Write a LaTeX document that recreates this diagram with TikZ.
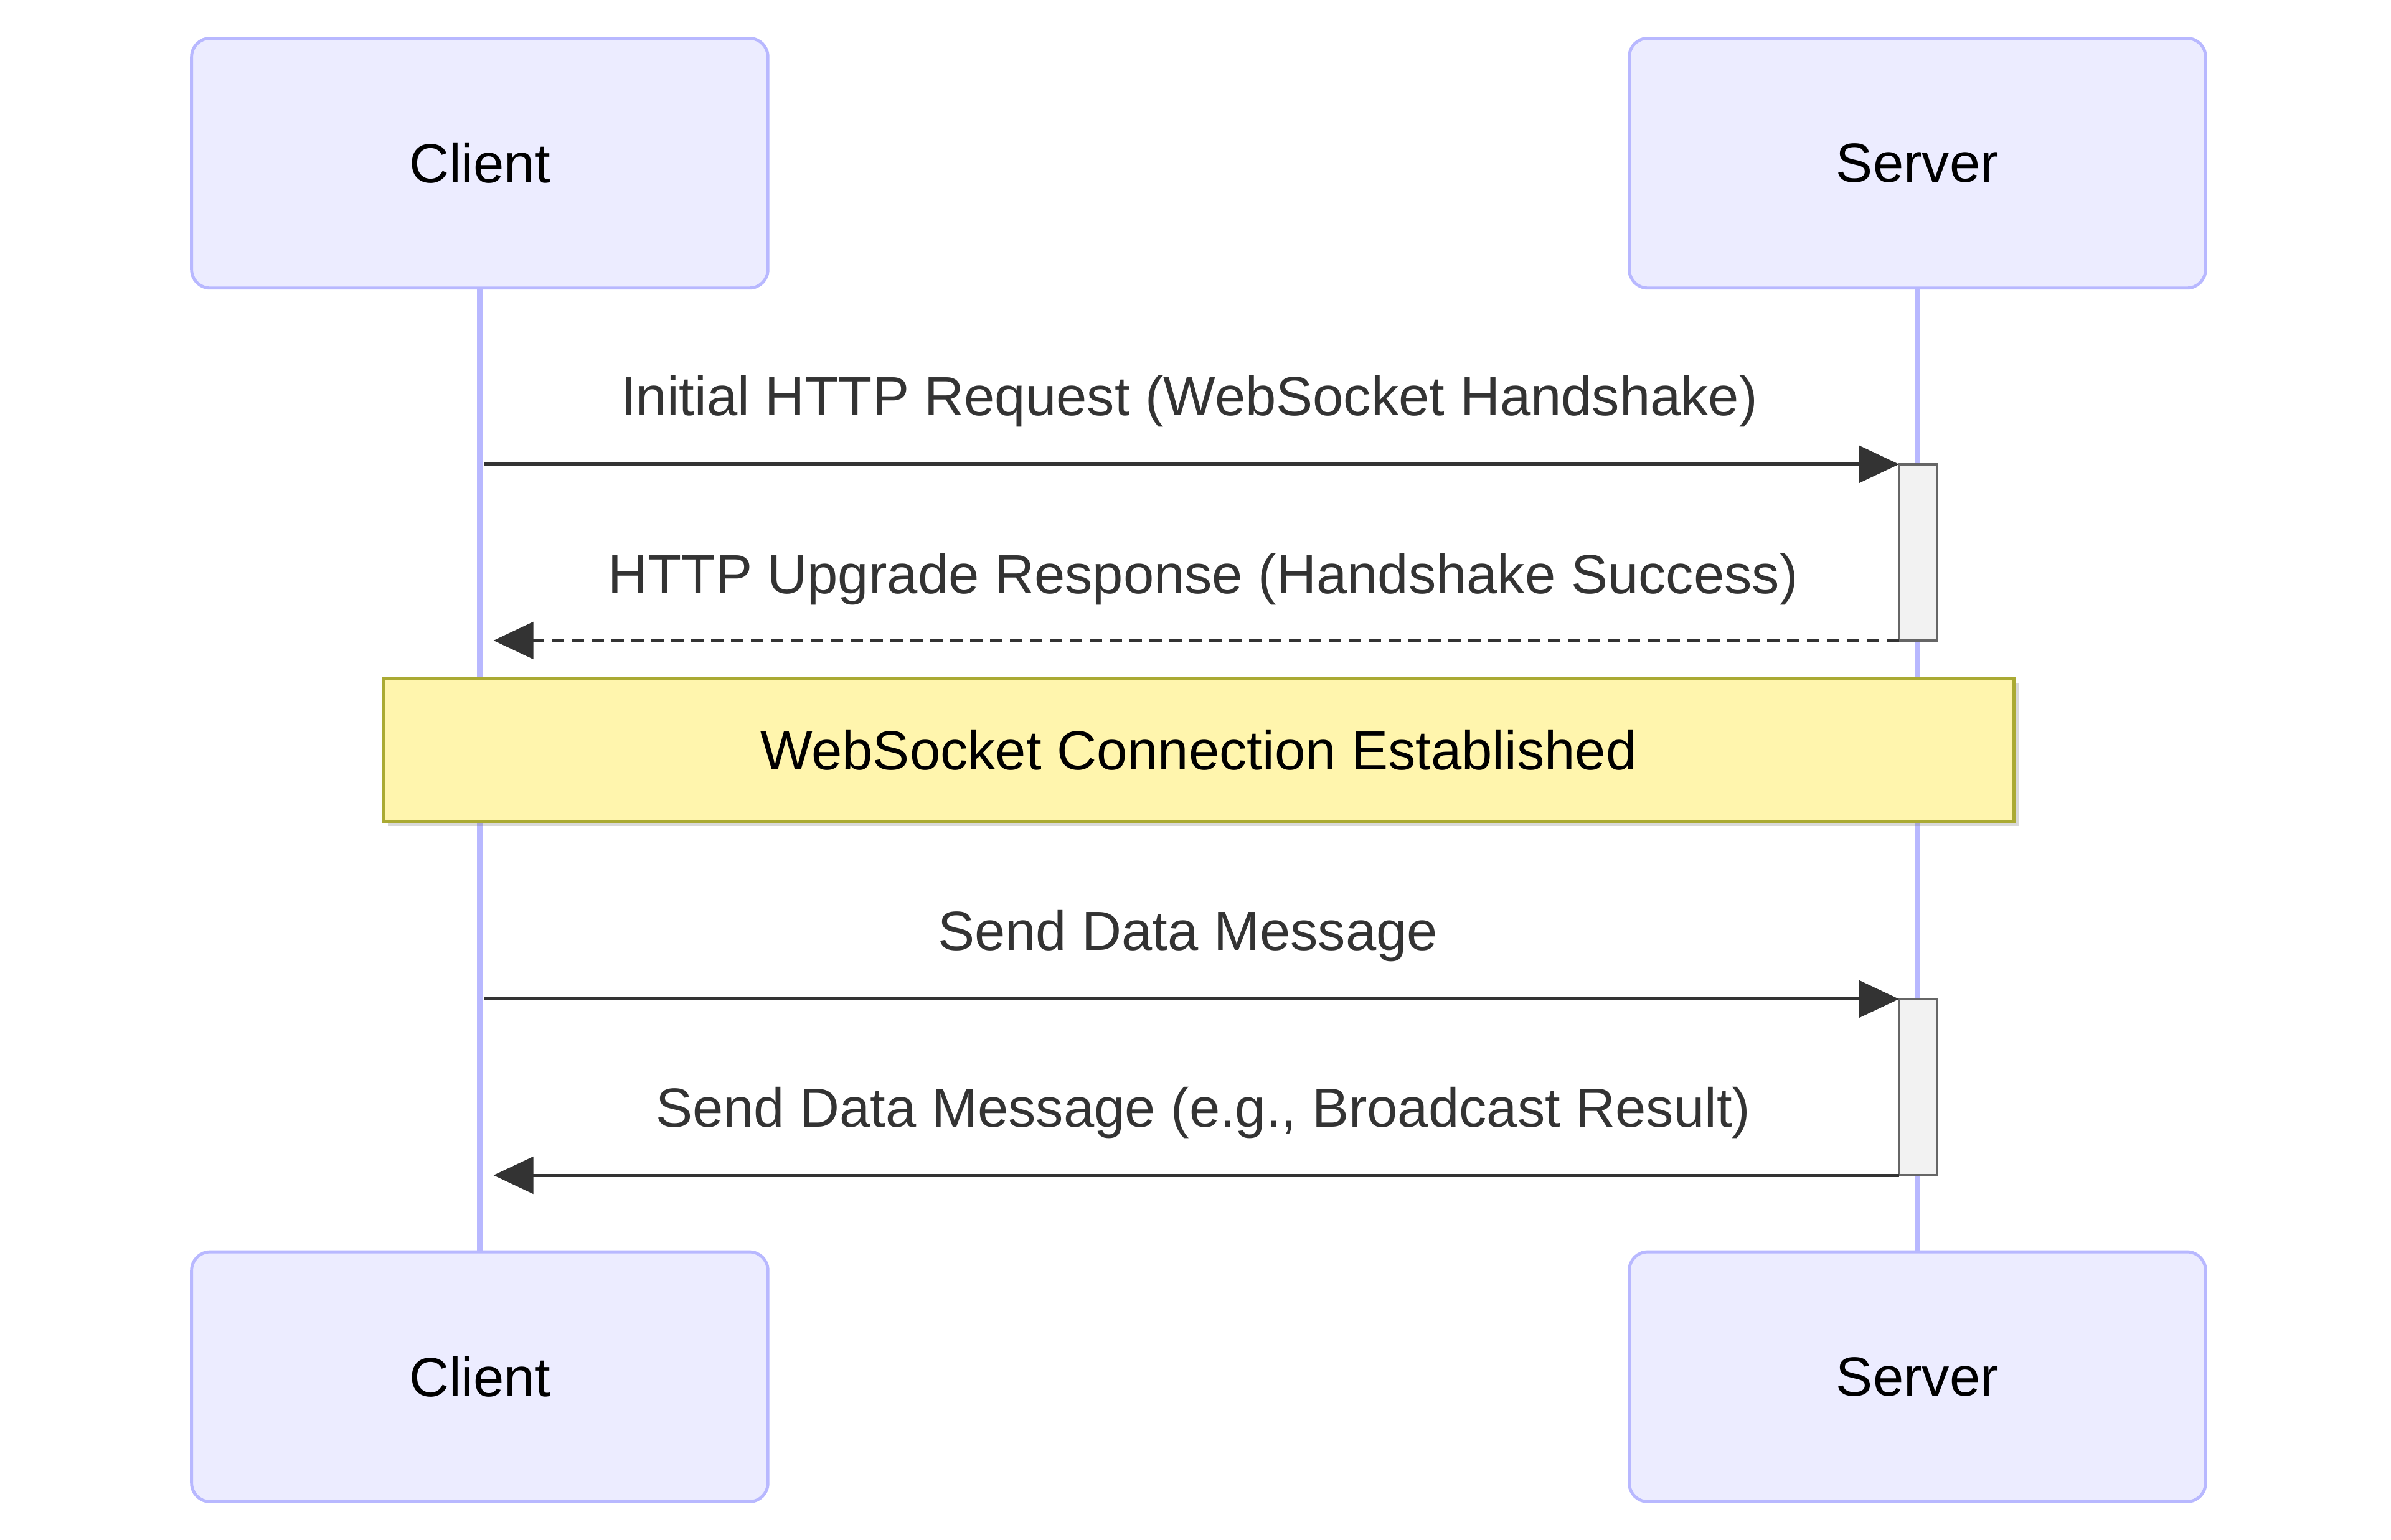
\documentclass[tikz,border=0pt]{standalone}
\usepackage{fontspec}
\setmainfont{Liberation Sans}
\usetikzlibrary{arrows.meta,shadows}
\definecolor{actfill}{HTML}{ECECFF}
\definecolor{actline}{HTML}{B8B8FF}
\definecolor{notefill}{HTML}{FFF5AD}
\definecolor{noteline}{HTML}{AAAA33}
\definecolor{msg}{HTML}{333333}
\begin{document}
\begin{tikzpicture}[x=1pt,y=-1pt,
 actor/.style={draw=actline,fill=actfill,line width=2pt,rounded corners=12pt,minimum width=376pt,minimum height=163pt,font=\fontsize{36}{40}\selectfont,text=black},
 life/.style={actline,line width=4pt},
 act/.style={draw=black!60,fill=black!5,line width=1.5pt},
 m/.style={msg,line width=2pt,-{Triangle[length=26pt,width=24pt]}},
 lbl/.style={font=\fontsize{36}{40}\selectfont,text=msg}]
\useasboundingbox (0,0) rectangle (1560,1005);
\draw[life] (313,188) -- (313,817);
\draw[life] (1251,188) -- (1251,817);
\node[actor] (c1) at (313,106.5) {Client};
\node[actor] (s1) at (1251,106.5) {Server};
\node[actor] (c2) at (313,898.5) {Client};
\node[actor] (s2) at (1251,898.5) {Server};
\draw[act] (1239,303) rectangle (1264,418);
\draw[act] (1239,652) rectangle (1264,767);
\coordinate (a1) at (316,303); \coordinate (b1) at (1239,303);
\coordinate (a2) at (1239,418); \coordinate (b2) at (322,418);
\coordinate (a3) at (316,652); \coordinate (b3) at (1239,652);
\coordinate (a4) at (1239,767); \coordinate (b4) at (322,767);
\draw[m] (a1) -- (b1);
\draw[m,dash pattern=on 8pt off 5pt] (a2) -- (b2);
\draw[m] (a3) -- (b3);
\draw[m] (a4) -- (b4);
\node[lbl] (l1) at (776,262) {Initial HTTP Request (WebSocket Handshake)};
\node[lbl] (l2) at (785,378) {HTTP Upgrade Response (Handshake Success)};
\node[lbl] (l3) at (775,611) {Send Data Message};
\node[lbl] (l4) at (785,726) {Send Data Message (e.g., Broadcast Result)};
\node[draw=noteline,fill=notefill,line width=2pt,minimum width=1064pt,minimum height=93pt,font=\fontsize{36}{40}\selectfont,text=black,drop shadow={shadow xshift=3pt,shadow yshift=-3pt,opacity=0.3}] (n) at (782,489.5) {WebSocket Connection Established};
\end{tikzpicture}
\end{document}
